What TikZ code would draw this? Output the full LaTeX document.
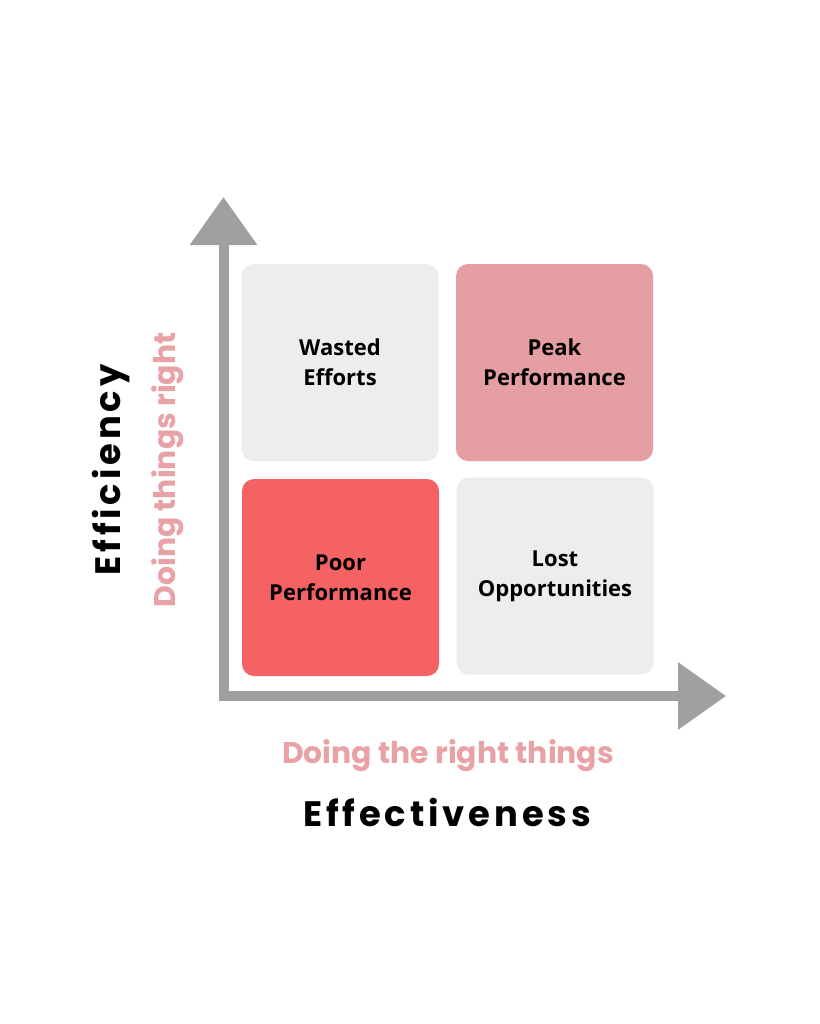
\documentclass[tikz,border=0pt]{standalone}
\usepackage{fontspec}
\setmainfont{Open Sans}
\newfontfamily\axisfont[LetterSpace=11]{Poppins}
\newfontfamily\subfont{Poppins}
\usetikzlibrary{arrows.meta}

\definecolor{boxgray}{HTML}{EDEDED}
\definecolor{peakpink}{HTML}{E59EA1}
\definecolor{poorred}{HTML}{F46264}
\definecolor{axisgray}{HTML}{A09FA1}
\definecolor{labelpink}{HTML}{E8A1A5}

\tikzset{
  quad/.style={rounded corners=9pt, minimum width=147.75pt, minimum height=147.75pt,
    inner sep=0pt, align=center, font=\bfseries\fontsize{16.5}{22.5}\selectfont},
  axis/.style={draw=axisgray, line width=7.5pt, line join=miter,
    {Triangle[width=48.75pt,length=36pt]}-{Triangle[width=48.75pt,length=36pt]}},
  bigtitle/.style={font=\axisfont\bfseries\fontsize{26.5}{30}\selectfont},
  subtitle/.style={text=labelpink, font=\subfont\bfseries\fontsize{22.4}{26}\selectfont}
}

\begin{document}
\begin{tikzpicture}[x=0.75pt, y=-0.75pt]
\fill[white] (0, 0) rectangle (819, 1024);
\useasboundingbox (0, 0) rectangle (819, 1024);

% the four quadrants
\node[quad, fill=boxgray] (wasted) at (340, 362.5) {Wasted\\Efforts};
\node[quad, fill=peakpink] (peak) at (554.5, 362.5) {Peak\\Performance};
\node[quad, fill=poorred] (poor) at (340.5, 577.5) {Poor\\Performance};
\node[quad, fill=boxgray] (lost) at (555, 576) {Lost\\Opportunities};

% axes
\coordinate (ytip) at (223.5, 197);
\coordinate (origin) at (223.5, 696);
\coordinate (xtip) at (726, 696);
\draw[axis, axisgray] (ytip) -- (origin) -- (xtip);

% labels
\node[subtitle, rotate=90] (ysub) at (168, 470) {Doing things right};
\node[bigtitle, rotate=90] (ytitle) at (111, 470) {Efficiency};
\node[subtitle] (xsub) at (448, 756) {Doing the right things};
\node[bigtitle] (xtitle) at (447, 812) {Effectiveness};
\end{tikzpicture}
\end{document}
